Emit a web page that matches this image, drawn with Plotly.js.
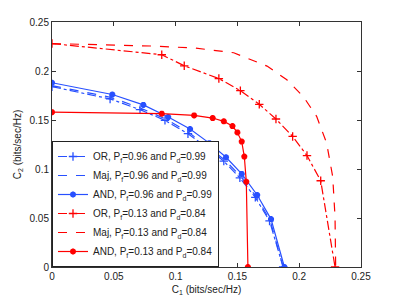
<!DOCTYPE html>
<html>
<head>
<meta charset="utf-8">
<script src="https://cdn.plot.ly/plotly-3.0.1.min.js"></script>
<style>html,body{margin:0;padding:0;background:#fff;}#chart{width:399px;height:300px;}</style>
</head>
<body>
<div id="chart"></div>
<script>
// Blue curves: Pf=0.96, Pd=0.99
const orBlueX  = [0, 0.047, 0.0712, 0.0914, 0.110, 0.1255, 0.139, 0.152, 0.1645, 0.176, 0.187];
const orBlueY  = [0.184, 0.1715, 0.1606, 0.1496, 0.136, 0.122, 0.108, 0.091, 0.071, 0.047, 0];
const majBlueX = [0, 0.048, 0.072, 0.092, 0.111, 0.126, 0.140, 0.153, 0.165, 0.1765, 0.187];
const majBlueY = [0.185, 0.173, 0.162, 0.151, 0.137, 0.123, 0.109, 0.092, 0.072, 0.0475, 0];
const andBlueX = [0, 0.0488, 0.0739, 0.094, 0.1117, 0.1273, 0.1408, 0.1535, 0.166, 0.1772, 0.188];
const andBlueY = [0.188, 0.176, 0.1654, 0.153, 0.1408, 0.1264, 0.112, 0.095, 0.0735, 0.0489, 0];
// Red curves: Pf=0.13, Pd=0.84
const orRedX  = [0, 0.0888, 0.107, 0.135, 0.1524, 0.1677, 0.1812, 0.1947, 0.2063, 0.2174, 0.229];
const orRedY  = [0.228, 0.2166, 0.2053, 0.1923, 0.180, 0.166, 0.151, 0.1332, 0.1137, 0.088, 0];
const majRedX = [0, 0.04, 0.08, 0.115, 0.147, 0.174, 0.190, 0.2033, 0.2141, 0.2222, 0.2271, 0.229, 0.2295];
const majRedY = [0.228, 0.227, 0.2255, 0.2235, 0.2186, 0.205, 0.191, 0.174, 0.1537, 0.1264, 0.0922, 0.051, 0];
const andRedX = [0, 0.0888, 0.115, 0.130, 0.139, 0.146, 0.150, 0.1535, 0.1556, 0.1572, 0.1585];
const andRedY = [0.158, 0.1565, 0.1547, 0.152, 0.1486, 0.1438, 0.1373, 0.128, 0.1127, 0.087, 0];

const names = [
  'OR, P<sub>f</sub>=0.96 and P<sub>d</sub>=0.99',
  'Maj, P<sub>f</sub>=0.96 and P<sub>d</sub>=0.99',
  'AND, P<sub>f</sub>=0.96 and P<sub>d</sub>=0.99',
  'OR, P<sub>f</sub>=0.13 and P<sub>d</sub>=0.84',
  'Maj, P<sub>f</sub>=0.13 and P<sub>d</sub>=0.84',
  'AND, P<sub>f</sub>=0.13 and P<sub>d</sub>=0.84'
];
const blue = 'rgb(40,80,255)';
const red = 'rgb(255,0,0)';

function tr(x, y, name, color, dash, marker) {
  const t = {x: x, y: y, name: name, type: 'scatter',
    line: {color: color, width: 1.2, dash: dash}};
  if (marker) {
    t.mode = 'lines+markers';
    t.marker = {symbol: marker, size: marker === 'cross-thin-open' ? 6 : 5,
      color: color, line: {color: color, width: marker === 'cross-thin-open' ? 1.3 : 2}};
  } else {
    t.mode = 'lines';
  }
  return t;
}

const data = [
  tr(orBlueX, orBlueY, names[0], blue, 'dashdot', 'cross-thin-open'),
  tr(majBlueX, majBlueY, names[1], blue, 'dash', null),
  tr(andBlueX, andBlueY, names[2], blue, 'solid', 'asterisk-open'),
  tr(orRedX, orRedY, names[3], red, 'dashdot', 'cross-thin-open'),
  tr(majRedX, majRedY, names[4], red, 'dash', null),
  tr(andRedX, andRedY, names[5], red, 'solid', 'asterisk-open')
];

const axisCommon = {
  range: [0, 0.25], dtick: 0.05, tick0: 0,
  ticks: 'inside', ticklen: 4, tickcolor: '#333',
  showline: true, linecolor: '#333', linewidth: 1, mirror: 'ticks',
  showgrid: false, zeroline: false,
  tickfont: {family: 'Liberation Sans, Arial, sans-serif', size: 10, color: '#222'}
};

const layout = {
  width: 399, height: 300,
  margin: {l: 52, r: 38, t: 22, b: 33},
  paper_bgcolor: '#fff', plot_bgcolor: '#fff',
  font: {family: 'Liberation Sans, Arial, sans-serif', size: 10, color: '#222'},
  xaxis: Object.assign({}, axisCommon, {
    title: {text: 'C<sub>1</sub> (bits/sec/Hz)', standoff: 4, font: {size: 10}}
  }),
  yaxis: Object.assign({}, axisCommon, {
    title: {text: 'C<sub>2</sub> (bits/sec/Hz)', standoff: 6, font: {size: 10}}
  }),
  showlegend: true,
  legend: {
    x: 0, y: 0, xanchor: 'left', yanchor: 'bottom',
    bgcolor: '#fff', bordercolor: '#222', borderwidth: 1,
    font: {size: 10, color: '#222'},
    tracegroupgap: 0, itemwidth: 30
  }
};

Plotly.newPlot('chart', data, layout, {displayModeBar: false, staticPlot: true});
</script>
</body>
</html>
